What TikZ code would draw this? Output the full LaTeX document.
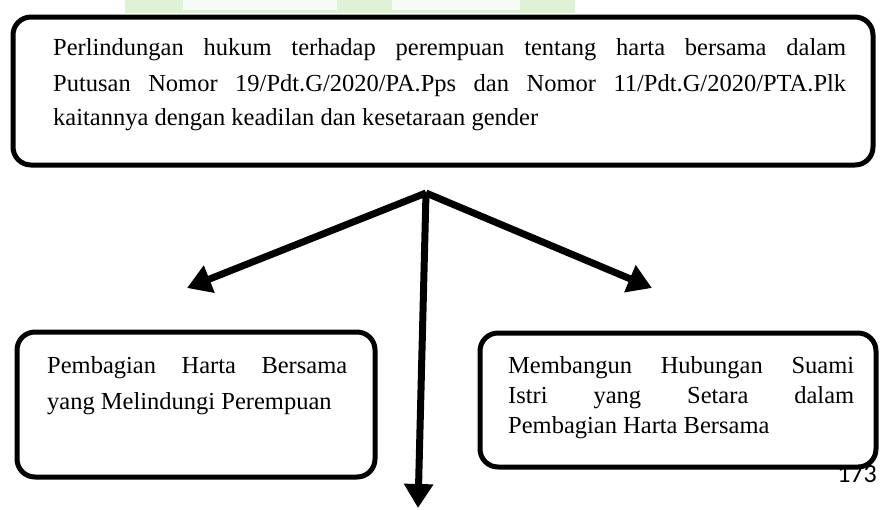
\documentclass[tikz,border=0pt]{standalone}
\usepackage{fontspec}
\setmainfont{Liberation Serif}
\newfontfamily\pagefont{Carlito}
\usetikzlibrary{arrows.meta}
\definecolor{wmgreen}{RGB}{222,243,214}
\definecolor{wmpale}{RGB}{246,252,244}
\tikzset{
  roundbox/.style={draw=black, line width=5pt, rounded corners=18pt},
  bodytext/.style={anchor=base west, inner sep=0pt, font=\fontsize{24.5}{24.5}\selectfont},
  bigarrow/.style={line width=7pt, -{Triangle[length=24pt,width=28pt]}},
}
\begin{document}
\begin{tikzpicture}[x=1pt,y=-1pt]
\useasboundingbox (0,0) rectangle (881,509);
% faint watermark strip at the top
\fill[wmgreen] (125,0) rectangle (575,13);
\fill[wmpale] (183,0) rectangle (337,10);
\fill[wmpale] (392,0) rectangle (520,10);
% page number (partly hidden by the right box)
\node[anchor=base east, inner sep=0pt, font=\pagefont\fontsize{26}{26}\selectfont] (pagenum) at (877,482) {173};
% boxes
\draw[roundbox, fill=white] (13,17) rectangle (873,165);
\draw[roundbox, fill=white] (17,332) rectangle (375,477);
\draw[roundbox, fill=white] (480,333) rectangle (876,467);
% top text
\node[bodytext] (t1) at (53,55) {\makebox[793pt][s]{Perlindungan hukum terhadap perempuan tentang harta bersama dalam}};
\node[bodytext] (t2) at (53,91) {\makebox[793pt][s]{Putusan Nomor 19/Pdt.G/2020/PA.Pps dan Nomor 11/Pdt.G/2020/PTA.Plk}};
\node[bodytext] (t3) at (53,125) {kaitannya dengan keadilan dan kesetaraan gender};
% left text
\node[bodytext] (l1) at (47,373) {\makebox[300pt][s]{Pembagian Harta Bersama}};
\node[bodytext] (l2) at (47,409) {yang Melindungi Perempuan};
% right text
\node[bodytext] (r1) at (508,373) {\makebox[346pt][s]{Membangun Hubungan Suami}};
\node[bodytext] (r2) at (508,403) {\makebox[346pt][s]{Istri yang Setara dalam}};
\node[bodytext] (r3) at (508,433) {Pembagian Harta Bersama};
% arrows
\coordinate (apex) at (426,193);
\coordinate (lefttip) at (187,288);
\coordinate (righttip) at (652,288);
\coordinate (downtip) at (418,508);
\draw[bigarrow] (apex) -- (lefttip);
\draw[bigarrow] (apex) -- (righttip);
\draw[bigarrow] (apex) -- (downtip);
\end{tikzpicture}
\end{document}
